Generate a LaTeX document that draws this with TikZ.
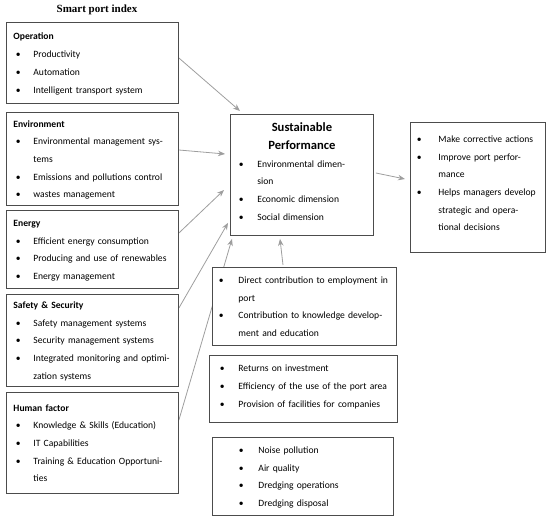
\documentclass[tikz,border=0pt]{standalone}
\usepackage{fontspec}
\setmainfont{Carlito}
\newfontfamily\titleserif{Liberation Serif}
\usetikzlibrary{arrows.meta}
\pgfdeclarelayer{bg}
\pgfsetlayers{bg,main}
\newcommand{\bodysize}{\fontsize{9.6}{17.7}\selectfont}
\newcommand{\blt}{\textbullet}
\newcommand{\lhead}[1]{\multicolumn{2}{@{\hspace{7pt}}l@{}}{\textbf{#1}}}
\newcommand{\dep}[1]{\rule[-#1]{0pt}{1pt}}
\tikzset{
  box/.style={draw=black!70, line width=0.9pt, fill=white, anchor=north west, inner sep=0pt, align=left, font=\bodysize},
  arr/.style={draw=black!38, line width=0.8pt, -{Stealth[length=7pt,width=5.5pt]}},
  ttl/.style={font=\titleserif\bfseries\fontsize{11}{13}\selectfont, inner sep=0pt}
}
\begin{document}
\begin{tikzpicture}[x=1pt,y=-1pt]
\useasboundingbox (0,0) rectangle (550,521);
\node[ttl] (title) at (97,10) {Smart port index};
% left boxes
\node[box, text width=172pt, minimum height=81pt] (op) at (6,22) {%
\begin{tabular}{@{\hspace{9.5pt}}p{17.5pt}@{}l@{}}
\lhead{Operation}\\
\blt & Productivity\\
\blt & Automation\\
\blt & Intelligent transport system
\end{tabular}};
\node[box, text width=172pt, minimum height=93pt] (env) at (6,112) {%
\begin{tabular}{@{\hspace{9.5pt}}p{17.5pt}@{}l@{}}
\lhead{Environment}\\
\blt & Environmental management sys-\\
 & tems\\
\blt & Emissions and pollutions control\\
\blt & wastes management
\end{tabular}};
\node[box, text width=172pt, minimum height=78pt] (en) at (6,210) {%
\begin{tabular}{@{\hspace{9.5pt}}p{17.5pt}@{}l@{}}
\lhead{Energy}\\
\blt & Efficient energy consumption\\
\blt & Producing and use of renewables\\
\blt & Energy management
\end{tabular}};
\node[box, text width=172pt, minimum height=92pt] (sa) at (6,294) {%
\begin{tabular}{@{\hspace{9.5pt}}p{17.5pt}@{}l@{}}
\lhead{Safety \& Security}\\
\blt & Safety management systems\\
\blt & Security management systems\\
\blt & Integrated monitoring and optimi-\\
 & zation systems
\end{tabular}};
\node[box, text width=172pt, minimum height=101pt] (hf) at (6,392) {%
\begin{tabular}{@{\hspace{9.5pt}}p{17.5pt}@{}l@{}}
\lhead{Human factor}\\
\blt & Knowledge \& Skills (Education)\\
\blt & IT Capabilities\\
\blt & Training \& Education Opportuni-\\
 & ties
\end{tabular}};
% centre box
\node[box, text width=143pt, minimum height=121pt] (sp) at (230,114) {%
\begin{tabular}{@{\hspace{8.5pt}}p{18.5pt}@{}l@{}}
\multicolumn{2}{@{}c@{}}{\makebox[143pt]{\fontsize{12.6}{17.7}\selectfont\bfseries Sustainable}}\\
\multicolumn{2}{@{}c@{}}{\makebox[143pt]{\fontsize{12.6}{17.7}\selectfont\bfseries Performance}}\\
\blt & Environmental dimen-\\
 & sion\\
\blt & Economic dimension\\
\blt & Social dimension\dep{10.5pt}
\end{tabular}};
% right box
\node[box, text width=135pt, minimum height=130pt] (rb) at (410,122) {%
\begin{tabular}{@{\hspace{6.5pt}}p{21.5pt}@{}l@{}}
\blt & Make corrective actions\\
\blt & Improve port perfor-\\
 & mance\\
\blt & Helps managers develop\\
 & strategic and opera-\\
 & tional decisions\dep{14pt}
\end{tabular}};
% lower boxes
\node[box, text width=184pt, minimum height=78pt] (dc) at (212,267) {%
\begin{tabular}{@{\hspace{6.5pt}}p{19.5pt}@{}l@{}}
\blt & Direct contribution to employment in\\
 & port\\
\blt & Contribution to knowledge develop-\\
 & ment and education
\end{tabular}};
\node[box, text width=188pt, minimum height=67pt] (ri) at (209,355) {%
\begin{tabular}{@{\hspace{10.5pt}}p{18.5pt}@{}l@{}}
\blt & Returns on investment\\
\blt & Efficiency of the use of the port area\\
\blt & Provision of facilities for companies\dep{11pt}
\end{tabular}};
\node[box, text width=181pt, minimum height=78pt] (np) at (212,437) {%
\begin{tabular}{@{\hspace{26.5pt}}p{19.5pt}@{}l@{}}
\blt & Noise pollution\\
\blt & Air quality\\
\blt & Dredging operations\\
\blt & Dredging disposal
\end{tabular}};
% connectors
\begin{pgfonlayer}{bg}
\draw[arr] ([yshift=-36pt]op.north east) -- ([xshift=10pt,yshift=3pt]sp.north west);
\draw[arr] ([yshift=-38pt]env.north east) -- ([xshift=-5pt,yshift=-40pt]sp.north west);
\draw[arr] ([yshift=-23pt]en.north east) -- ([xshift=-6pt,yshift=-76pt]sp.north west);
\draw[arr] ([yshift=-14pt]sa.north east) -- ([xshift=-2pt,yshift=13pt]sp.south west);
\draw[arr] ([yshift=-28pt]hf.north east) -- ([xshift=2pt,yshift=-3pt]sp.south west);
\draw[arr] ([xshift=71pt,yshift=2pt]dc.north west) -- ([xshift=50pt,yshift=-3pt]sp.south west);
\draw[arr] ([xshift=2pt,yshift=-59pt]sp.north east) -- ([xshift=-5pt,yshift=-57pt]rb.north west);
\end{pgfonlayer}
\end{tikzpicture}
\end{document}
